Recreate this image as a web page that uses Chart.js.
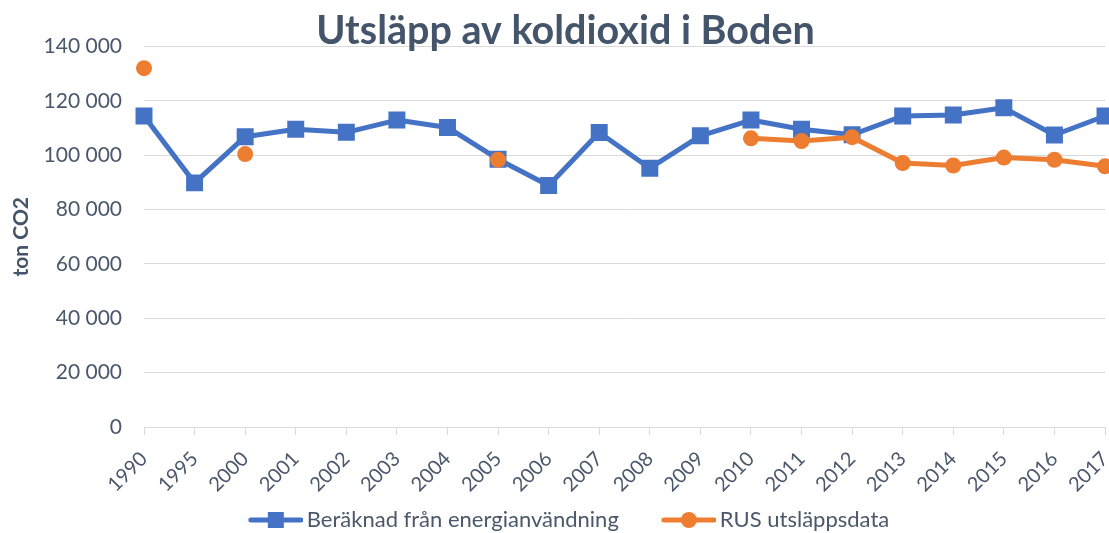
<!DOCTYPE html>
<html>
<head>
<meta charset="utf-8">
<script src="https://cdn.jsdelivr.net/npm/chart.js@4/dist/chart.umd.min.js"></script>
<style>
  html, body { margin: 0; padding: 0; background: #fff; }
  #wrap { width: 1109px; height: 533px; position: relative; }
</style>
</head>
<body>
<div id="wrap"><canvas id="c" width="1109" height="533"></canvas></div>
<script>
const categories = ['1990','1995','2000','2001','2002','2003','2004','2005','2006','2007','2008','2009','2010','2011','2012','2013','2014','2015','2016','2017'];
const beraknad = [114400, 89800, 106800, 109500, 108400, 112900, 110200, 98500, 88800, 108300, 95200, 107100, 112900, 109500, 107500, 114400, 114800, 117400, 107400, 114400];
const rus = [132000, null, 100400, null, null, null, null, 98300, null, null, null, null, 106200, 105200, 106600, 97100, 96200, 99100, 98300, 95900];
const seriesNames = ['Beräknad från energianvändning', 'RUS utsläppsdata'];
const yTicks = [0, 20000, 40000, 60000, 80000, 100000, 120000, 140000];
const titleText = 'Utsläpp av koldioxid i Boden';
const yTitle = 'ton CO2';

const BLUE = '#4472C4', ORANGE = '#ED7D31';
const FONT = 'Lato, "Open Sans", sans-serif';
const TEXT = '#4B586B';

// legend icon: line with marker, drawn in the right part of a wider transparent canvas
function legendIcon(color, shape) {
  const cv = document.createElement('canvas');
  cv.width = 94; cv.height = 18;
  const g = cv.getContext('2d');
  const x0 = 40, x1 = 94;
  g.strokeStyle = color; g.lineWidth = 5; g.lineCap = 'round';
  g.beginPath(); g.moveTo(x0 + 2, 9); g.lineTo(x1 - 2, 9); g.stroke();
  g.fillStyle = color;
  const cx = (x0 + x1) / 2;
  if (shape === 'rect') { g.fillRect(cx - 8, 1, 16, 16); }
  else { g.beginPath(); g.arc(cx, 9, 8, 0, Math.PI * 2); g.fill(); }
  return cv;
}
const icons = [legendIcon(BLUE, 'rect'), legendIcon(ORANGE, 'circle')];

function fmt(v) { return String(v).replace(/\B(?=(\d{3})+(?!\d))/g, ' '); }

const PADL = 26;

const legendShift = {
  id: 'legendShift',
  afterLayout(chart) {
    if (chart.legend) { chart.legend.left -= 13; chart.legend.right -= 13; }
  }
};

new Chart(document.getElementById('c'), {
  type: 'line',
  data: {
    labels: categories,
    datasets: [
      {
        label: seriesNames[0], data: beraknad, borderColor: BLUE, backgroundColor: BLUE,
        borderWidth: 5, borderJoinStyle: 'round', pointStyle: 'rect', pointRadius: 12, pointHoverRadius: 12,
        pointBorderWidth: 0, tension: 0, order: 1
      },
      {
        label: seriesNames[1], data: rus, borderColor: ORANGE, backgroundColor: ORANGE,
        borderWidth: 5, borderJoinStyle: 'round', pointStyle: 'circle', pointRadius: 8, pointHoverRadius: 8,
        pointBorderWidth: 0, tension: 0, spanGaps: false, order: 0
      }
    ]
  },
  plugins: [legendShift],
  options: {
    responsive: false,
    animation: false,
    layout: { autoPadding: false, padding: { left: PADL, right: 4, top: 0, bottom: -8 } },
    plugins: {
      title: {
        display: true, text: titleText, color: '#44546A',
        font: { family: FONT, size: 39.5, weight: 'bold', lineHeight: 1.2 },
        padding: { top: 8, bottom: -9 }
      },
      legend: {
        position: 'bottom',
        labels: {
          usePointStyle: true,
          pointStyleWidth: 80,
          color: TEXT,
          font: { family: FONT, size: 22 },
          padding: 10,
          generateLabels(chart) {
            return chart.data.datasets.map((ds, i) => ({
              text: ds.label, pointStyle: icons[i], fillStyle: ds.borderColor,
              strokeStyle: ds.borderColor, lineWidth: 0, hidden: false, datasetIndex: i, fontColor: TEXT
            }));
          }
        }
      },
      tooltip: { enabled: false }
    },
    scales: {
      x: {
        offset: false,
        afterFit(scale) { scale.height = 72; scale.paddingLeft = 0; scale.paddingRight = 0; },
        grid: { display: true, drawOnChartArea: false, drawTicks: true, tickLength: 8, color: '#D9D9D9', lineWidth: 1 },
        border: { display: true, color: '#D9D9D9', width: 1 },
        ticks: { color: TEXT, font: { family: FONT, size: 20 }, minRotation: 45, maxRotation: 45, padding: 12, autoSkip: false }
      },
      y: {
        min: 0, max: 140000,
        afterBuildTicks(scale) { scale.ticks = yTicks.map(v => ({ value: v })); },
        afterFit(scale) { scale.width = 144 - PADL; },
        grid: { color: '#D9D9D9', lineWidth: 1, drawTicks: false },
        border: { display: false },
        ticks: { color: TEXT, font: { family: FONT, size: 21 }, padding: 22, callback: v => fmt(v) },
        title: { display: true, text: yTitle, color: '#44546A', font: { family: FONT, size: 21, weight: 'bold' }, padding: { top: 9 - PADL, bottom: 0 } }
      }
    }
  }
});
</script>
</body>
</html>
